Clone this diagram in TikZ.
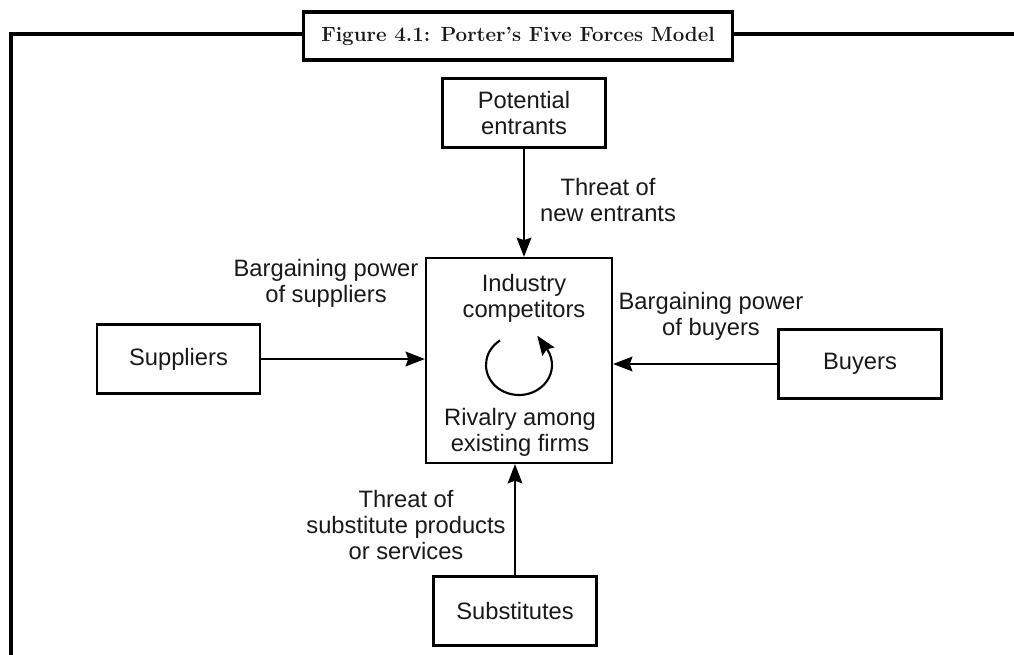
\documentclass[tikz,border=0pt]{standalone}
\usepackage{fontspec}
\newfontfamily\labelfont{Liberation Sans}
\usetikzlibrary{arrows.meta}

\begin{document}
\begin{tikzpicture}[x=0.75pt,y=-0.75pt,
  every node/.style={font=\labelfont\fontsize{17.8}{19.5}\selectfont, text=black!90},
  box/.style={draw, line width=1.6pt, minimum width=122.25pt, minimum height=51.75pt,
              align=center, inner sep=0pt},
  lbl/.style={align=center, inner sep=0pt},
  head/.style={-{Stealth[length=14.5pt,width=11pt,inset=2pt]}},
  force/.style={line width=1.6pt, head},
  frame/.style={line width=2.4pt},
  titlebox/.style={draw, fill=white, line width=2.4pt, minimum width=322pt,
                   minimum height=36pt, inner sep=0pt,
                   font=\rmfamily\bfseries\fontsize{15.4}{18}\selectfont}]
  \useasboundingbox (0,0) rectangle (1014,655);

  % outer frame and caption
  \draw[frame] (11,656) -- (11,34) -- (1015,34);
  \node[titlebox] (title) at (518,36) {Figure 4.1: Porter’s Five Forces Model};

  % boxes
  \node[box] (entrants) at (524,113) {Potential\\entrants};
  \node[box, minimum width=139.5pt, minimum height=153.75pt] (industry) at (519,360.5) {};
  \node[box] (suppliers) at (178.5,359) {Suppliers};
  \node[box] (buyers) at (860,364) {Buyers};
  \node[box] (substitutes) at (515,611) {Substitutes};

  % text inside the industry box
  \node[lbl] (indtop) at (524,298) {Industry\\competitors};
  \node[lbl] (indbot) at (520,432.5) {Rivalry among\\existing firms};

  % rivalry loop, its head turned up towards the upper text
  \coordinate (loopc) at (519,365);
  \draw[line width=1.6pt, head]
    ([shift={(-125:33 and 30)}]loopc) arc[start angle=-125, end angle=-400, x radius=33, y radius=30]
    -- ++(-7,-10);

  % forces
  \draw[force] (entrants.south) -- (industry.north -| entrants.south);
  \draw[force] (suppliers.east) -- (suppliers.east -| industry.west);
  \draw[force] (buyers.west) -- (buyers.west -| industry.east);
  \draw[force] (substitutes.north) -- (industry.south -| substitutes.north);

  % force labels
  \node[lbl] (lnew) at (608,200) {Threat of\\new entrants};
  \node[lbl] (lsup) at (326,283) {Bargaining power\\of suppliers};
  \node[lbl] (lbuy) at (711,316) {Bargaining power\\of buyers};
  \node[lbl] (lsub) at (406,525) {Threat of\\substitute products\\or services};
\end{tikzpicture}
\end{document}
